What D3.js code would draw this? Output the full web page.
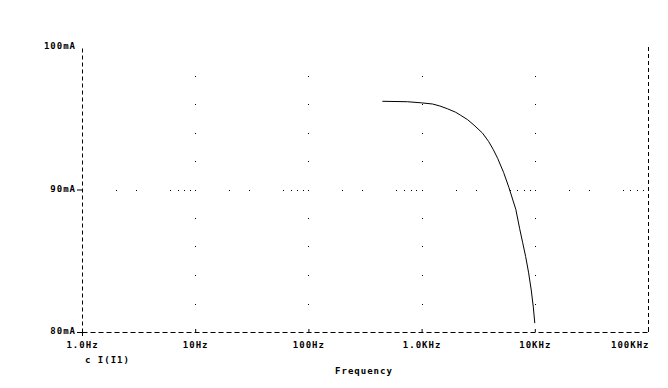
<!DOCTYPE html>
<html>
<head>
<meta charset="utf-8">
<script src="https://cdn.jsdelivr.net/npm/d3@7/dist/d3.min.js"></script>
<style>
  body { margin: 0; background: #fff; }
  text { font-family: "DejaVu Sans Mono", monospace; font-weight: bold; font-size: 9px; letter-spacing: 1px; fill: #000; }
</style>
</head>
<body>
<svg width="668" height="388"></svg>
<script>
// frequency (Hz) and current (mA)
var freq = [450, 750, 1000, 1250, 1450, 1700, 2000, 2200, 2550, 2900, 3450, 3900,
            4300, 4700, 5300, 5900, 6800, 7350, 7800, 8300, 8800, 9300, 9700, 10000];
var current = [96.19, 96.16, 96.08, 96.0, 95.86, 95.66, 95.42, 95.22, 94.9, 94.52, 93.96, 93.38,
               92.8, 92.18, 91.2, 90.15, 88.6, 87.25, 86.3, 85.3, 84.2, 82.95, 81.75, 80.62];

// axis ticks and labels
var xTicks = [1, 10, 100, 1000, 10000, 100000];
var xLabels = ["1.0Hz", "10Hz", "100Hz", "1.0KHz", "10KHz", "100KHz"];
var yTicks = [80, 90, 100];
var yLabels = ["80mA", "90mA", "100mA"];
var gridY = [82, 84, 86, 88, 90, 92, 94, 96, 98];
var minorMultiples = [2, 3, 6, 7, 8, 9];

var svg = d3.select("svg");

var x = d3.scaleLog().domain([1, 100000]).range([82, 648]);
var y = d3.scaleLinear().domain([80, 100]).range([332, 47]);

// dotted grid: dots down each inner decade line
var gridG = svg.append("g");
xTicks.slice(1, -1).forEach(function (f) {
  gridY.forEach(function (v) {
    gridG.append("rect").attr("x", Math.round(x(f))).attr("y", Math.round(y(v)))
      .attr("width", 1).attr("height", 1).attr("fill", "#000");
  });
});
// dots across the 90mA line at minor frequencies
xTicks.slice(0, -1).forEach(function (f) {
  minorMultiples.concat([10]).forEach(function (m) {
    gridG.append("rect").attr("x", Math.round(x(f * m))).attr("y", Math.round(y(90)))
      .attr("width", 1).attr("height", 1).attr("fill", "#000");
  });
});

// bottom axis
var xAxis = d3.axisBottom(x)
  .tickValues(xTicks)
  .tickFormat(function (d, i) { return xLabels[i]; })
  .tickSizeInner(-3)
  .tickSizeOuter(0)
  .tickPadding(10);

var gx = svg.append("g").attr("transform", "translate(0,332)").call(xAxis);
gx.select(".domain").attr("stroke-dasharray", "5,3").attr("stroke", "#000");
gx.selectAll(".tick line").attr("stroke", "#000");
gx.selectAll("text").attr("font-size", null).attr("font-family", null);
// last label sits flush with the right border
gx.selectAll(".tick").filter(function (d) { return d === 100000; })
  .select("text").attr("text-anchor", "end").attr("dx", "1px");

// left axis
var yAxis = d3.axisLeft(y)
  .tickValues(yTicks)
  .tickFormat(function (d, i) { return yLabels[i]; })
  .tickSize(0)
  .tickPadding(6);

var gy = svg.append("g").attr("transform", "translate(82,0)").call(yAxis);
gy.select(".domain").attr("stroke-dasharray", "4,3").attr("stroke", "#000");
gy.selectAll("text").attr("font-size", null).attr("font-family", null).attr("dy", "0.2em");

// tick at 90mA and the cross at the corner
svg.append("line").attr("x1", 77).attr("x2", 82).attr("y1", y(90) + 0.5).attr("y2", y(90) + 0.5).attr("stroke", "#000");
svg.append("line").attr("x1", 77).attr("x2", 87).attr("y1", y(80) + 0.5).attr("y2", y(80) + 0.5).attr("stroke", "#000");
svg.append("line").attr("x1", 82.5).attr("x2", 82.5).attr("y1", y(80) - 3).attr("y2", y(80) + 4).attr("stroke", "#000");

// right border
svg.append("line").attr("x1", 648.5).attr("x2", 648.5).attr("y1", y(100)).attr("y2", y(80))
  .attr("stroke", "#000").attr("stroke-dasharray", "4,3");

// trace
var line = d3.line()
  .x(function (d, i) { return x(freq[i]); })
  .y(function (d) { return y(d); });

svg.append("path")
  .datum(current)
  .attr("d", line)
  .attr("fill", "none")
  .attr("stroke", "#000")
  .attr("stroke-width", 1);

// legend and axis title
svg.append("text").attr("x", 85).attr("y", 363).text("c  I(I1)");
svg.append("text").attr("x", 364).attr("y", 374).attr("text-anchor", "middle").text("Frequency");
</script>
</body>
</html>
